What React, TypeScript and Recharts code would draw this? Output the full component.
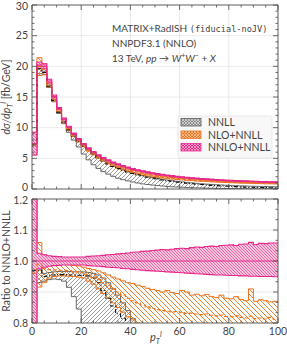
import { ComposedChart, Area, Line, XAxis, YAxis, CartesianGrid } from 'recharts';

// bin edges in p_T^l [GeV], 2 GeV bins
const binEdges = [
  0, 2, 4, 6, 8, 10, 12, 14, 16, 18, 20, 22, 24, 26, 28, 30, 32, 34, 36, 38,
  40, 42, 44, 46, 48, 50, 52, 54, 56, 58, 60, 62, 64, 66, 68, 70, 72, 74, 76, 78,
  80, 82, 84, 86, 88, 90, 92, 94, 96, 98, 100,
];

// NNLO+NNLL central value [fb/GeV]
const nnloNnll = [
  7.4, 20.2, 20.0, 17.6, 15.1, 13.1, 11.4, 10.1, 9.0, 8.1,
  7.3, 6.6, 6.0, 5.5, 5.05, 4.65, 4.3, 4.0, 3.72, 3.47,
  3.25, 3.05, 2.87, 2.71, 2.56, 2.43, 2.31, 2.2, 2.1, 2.01,
  1.92, 1.84, 1.77, 1.7, 1.64, 1.58, 1.53, 1.48, 1.43, 1.39,
  1.35, 1.31, 1.28, 1.25, 1.22, 1.19, 1.16, 1.14, 1.12, 1.1,
];

// uncertainty bands / central values as ratio to NNLO+NNLL
const nnloLo = [
  0.75, 0.975, 0.98, 0.983, 0.985, 0.986, 0.987, 0.987, 0.987, 0.987,
  0.987, 0.985, 0.984, 0.983, 0.982, 0.98, 0.979, 0.978, 0.976, 0.975,
  0.973, 0.972, 0.97, 0.969, 0.968, 0.967, 0.966, 0.965, 0.964, 0.963,
  0.962, 0.961, 0.96, 0.959, 0.958, 0.957, 0.956, 0.955, 0.955, 0.954,
  0.953, 0.953, 0.952, 0.952, 0.951, 0.951, 0.95, 0.95, 0.95, 0.949,
];
const nnloHi = [
  1.25, 1.025, 1.02, 1.017, 1.015, 1.014, 1.013, 1.013, 1.013, 1.013,
  1.013, 1.015, 1.016, 1.017, 1.018, 1.02, 1.021, 1.023, 1.024, 1.026,
  1.028, 1.029, 1.031, 1.032, 1.034, 1.035, 1.037, 1.036, 1.038, 1.04,
  1.041, 1.04, 1.043, 1.045, 1.044, 1.047, 1.048, 1.047, 1.05, 1.051,
  1.052, 1.05, 1.054, 1.055, 1.06, 1.053, 1.057, 1.056, 1.058, 1.058,
];

const nloC = [
  0.96, 0.99, 0.975, 0.972, 0.971, 0.97, 0.97, 0.969, 0.967, 0.965,
  0.962, 0.955, 0.948, 0.94, 0.93, 0.92, 0.91, 0.9, 0.89, 0.88,
  0.872, 0.865, 0.858, 0.852, 0.847, 0.843, 0.84, 0.838, 0.836, 0.837,
  0.834, 0.831, 0.832, 0.829, 0.827, 0.829, 0.825, 0.823, 0.826, 0.821,
  0.82, 0.823, 0.818, 0.816, 0.822, 0.814, 0.816, 0.813, 0.818, 0.812,
];
const nloLo = [
  0.75, 0.916, 0.93, 0.945, 0.95, 0.952, 0.952, 0.951, 0.95, 0.948,
  0.945, 0.935, 0.925, 0.91, 0.895, 0.88, 0.865, 0.85, 0.835, 0.82,
  0.81, 0.8, 0.79, 0.785, 0.78, 0.776, 0.773, 0.771, 0.769, 0.77,
  0.767, 0.764, 0.765, 0.762, 0.76, 0.762, 0.758, 0.756, 0.759, 0.754,
  0.753, 0.756, 0.751, 0.749, 0.755, 0.747, 0.749, 0.746, 0.751, 0.745,
];
const nloHi = [
  1.25, 1.06, 1.02, 0.99, 0.99, 0.99, 0.99, 0.988, 0.986, 0.984,
  0.98, 0.976, 0.972, 0.968, 0.962, 0.955, 0.948, 0.942, 0.936, 0.93,
  0.927, 0.922, 0.918, 0.912, 0.908, 0.905, 0.9, 0.905, 0.898, 0.895,
  0.905, 0.9, 0.89, 0.893, 0.888, 0.892, 0.885, 0.882, 0.89, 0.88,
  0.878, 0.885, 0.876, 0.872, 0.91, 0.87, 0.875, 0.872, 0.868, 0.87,
];

const nnllC = [
  0.97, 0.97, 0.95, 0.952, 0.955, 0.956, 0.956, 0.955, 0.955, 0.954,
  0.953, 0.952, 0.945, 0.93, 0.905, 0.88, 0.855, 0.83, 0.815, 0.795,
  0.775, 0.755, 0.735, 0.71, 0.69, 0.66, 0.64, 0.61, 0.59, 0.56,
  0.54, 0.51, 0.49, 0.46, 0.44, 0.41, 0.39, 0.37, 0.35, 0.33,
  0.31, 0.29, 0.27, 0.25, 0.24, 0.22, 0.21, 0.19, 0.18, 0.17,
];
const nnllLo = [
  0.78, 0.93, 0.935, 0.94, 0.942, 0.94, 0.935, 0.915, 0.885, 0.845,
  0.78, 0.72, 0.66, 0.61, 0.56, 0.52, 0.48, 0.44, 0.41, 0.38,
  0.35, 0.32, 0.29, 0.27, 0.25, 0.23, 0.21, 0.19, 0.17, 0.16,
  0.15, 0.13, 0.12, 0.11, 0.1, 0.09, 0.08, 0.07, 0.065, 0.06,
  0.055, 0.05, 0.045, 0.04, 0.035, 0.03, 0.028, 0.025, 0.022, 0.02,
];
const nnllHi = [
  1.22, 1.0, 0.96, 0.963, 0.965, 0.966, 0.966, 0.966, 0.965, 0.965,
  0.965, 0.963, 0.96, 0.955, 0.945, 0.93, 0.91, 0.89, 0.865, 0.84,
  0.815, 0.79, 0.765, 0.745, 0.725, 0.705, 0.685, 0.665, 0.645, 0.625,
  0.605, 0.585, 0.565, 0.545, 0.525, 0.505, 0.49, 0.475, 0.46, 0.445,
  0.43, 0.415, 0.4, 0.39, 0.38, 0.37, 0.36, 0.35, 0.34, 0.33,
];

// axis ticks
const xTicks = [0, 5, 10, 15, 20, 25, 30, 35, 40, 45, 50, 55, 60, 65, 70, 75, 80, 85, 90, 95, 100];
const xMajor = [0, 20, 40, 60, 80, 100];
const topYTicks = [
  0, 1, 2, 3, 4, 5, 6, 7, 8, 9, 10, 11, 12, 13, 14, 15,
  16, 17, 18, 19, 20, 21, 22, 23, 24, 25, 26, 27, 28, 29, 30,
];
const topYMajor = [0, 5, 10, 15, 20, 25, 30];
const ratioTicks = [
  0.8, 0.8333, 0.8667, 0.9, 0.9333, 0.9667, 1.0, 1.0333, 1.0667, 1.1, 1.1333, 1.1667, 1.2,
];
const ratioMajor = [0.8, 0.9, 1.0, 1.1, 1.2];

const PINK = '#e7298a';
const ORANGE = '#e8731c';
const GRAY = '#5a5a5a';
const AXIS = '#4a4a4a';
const TXT = '#444';
const FONT = 'Lato, "Open Sans", sans-serif';

const PLOT_L = 32;
const PLOT_R = 278;

// each edge row takes the value of the bin that starts there (last edge closes the last bin)
const topData = binEdges.map((x, i) => {
  const k = Math.min(i, nnloNnll.length - 1);
  const c = nnloNnll[k];
  return {
    x,
    nnlo: c,
    nnloBand: [c * nnloLo[k], c * nnloHi[k]],
    nlo: c * nloC[k],
    nloBand: [c * nloLo[k], c * nloHi[k]],
    nnll: c * nnllC[k],
    nnllBand: [c * nnllLo[k], c * nnllHi[k]],
  };
});

const ratioData = binEdges.map((x, i) => {
  const k = Math.min(i, nnloNnll.length - 1);
  return {
    x,
    nnlo: nnloNnll[k] / nnloNnll[k],
    nnloBand: [nnloLo[k], nnloHi[k]],
    nlo: nloC[k],
    nloBand: [nloLo[k], nloHi[k]],
    nnll: nnllC[k],
    nnllBand: [nnllLo[k], nnllHi[k]],
  };
});

const isMajor = (v: number, list: number[]) => list.some((m) => Math.abs(m - v) < 1e-6);

function XTick(props: any) {
  const { x, payload, edge, dir, labels } = props;
  const v = payload.value;
  const major = isMajor(v, xMajor);
  const len = major ? 5 : 2.5;
  return (
    <g>
      <line x1={x} x2={x} y1={edge} y2={edge + dir * len} stroke={AXIS} strokeWidth={0.8} />
      {labels && major && (
        <text x={x} y={edge + 11.5} textAnchor="middle" fontSize={10.5} fill={TXT} fontFamily={FONT}>
          {v}
        </text>
      )}
    </g>
  );
}

function YTick(props: any) {
  const { y, payload, edge, dir, labels, majors, digits, minBase, maxBase } = props;
  const v = payload.value;
  const major = isMajor(v, majors);
  const len = major ? 5 : 2.5;
  const base = Math.min(Math.max(y + 3.5, minBase ?? -Infinity), maxBase ?? Infinity);
  return (
    <g>
      <line x1={edge} x2={edge + dir * len} y1={y} y2={y} stroke={AXIS} strokeWidth={0.8} />
      {labels && major && (
        <text x={edge - 4} y={base} textAnchor="end" fontSize={10.5} fill={TXT} fontFamily={FONT}>
          {v.toFixed(digits)}
        </text>
      )}
    </g>
  );
}

function Panel(props: any) {
  const { data, height, topPad, bottomPad, yDomain, yTicks, yMajor, digits, grid, showXLabels, minBase, maxBase } =
    props;
  const plotTop = topPad;
  const plotBottom = height - bottomPad;
  return (
    <ComposedChart width={287} height={height} data={data} margin={{ top: 0, right: 0, bottom: 0, left: 0 }}>
      <CartesianGrid
        stroke="#e4e4e4"
        strokeWidth={0.8}
        xAxisId="b"
        yAxisId="l"
        verticalValues={[20, 40, 60, 80]}
        horizontalValues={grid}
      />
      <XAxis
        xAxisId="b"
        dataKey="x"
        type="number"
        domain={[0, 100]}
        ticks={xTicks}
        interval={0}
        height={bottomPad}
        axisLine={{ stroke: AXIS, strokeWidth: 0.9 }}
        tickLine={false}
        tick={<XTick edge={plotBottom} dir={-1} labels={showXLabels} />}
        allowDataOverflow
      />
      <XAxis
        xAxisId="t"
        orientation="top"
        dataKey="x"
        type="number"
        domain={[0, 100]}
        ticks={xTicks}
        interval={0}
        height={topPad}
        axisLine={{ stroke: AXIS, strokeWidth: 0.9 }}
        tickLine={false}
        tick={<XTick edge={plotTop} dir={1} labels={false} />}
        allowDataOverflow
      />
      <YAxis
        yAxisId="l"
        type="number"
        domain={yDomain}
        ticks={yTicks}
        interval={0}
        width={PLOT_L}
        axisLine={{ stroke: AXIS, strokeWidth: 0.9 }}
        tickLine={false}
        tick={
          <YTick edge={PLOT_L} dir={1} labels majors={yMajor} digits={digits} minBase={minBase} maxBase={maxBase} />
        }
        allowDataOverflow
      />
      <YAxis
        yAxisId="r"
        orientation="right"
        type="number"
        domain={yDomain}
        ticks={yTicks}
        interval={0}
        width={287 - PLOT_R}
        axisLine={{ stroke: AXIS, strokeWidth: 0.9 }}
        tickLine={false}
        tick={<YTick edge={PLOT_R} dir={-1} labels={false} majors={yMajor} digits={digits} />}
        allowDataOverflow
      />
      <Area
        xAxisId="b"
        yAxisId="l"
        type="stepAfter"
        dataKey="nnllBand"
        stroke={GRAY}
        strokeWidth={0.9}
        fill="url(#hGray)"
        fillOpacity={1}
        dot={false}
        activeDot={false}
        isAnimationActive={false}
      />
      <Area
        xAxisId="b"
        yAxisId="l"
        type="stepAfter"
        dataKey="nloBand"
        stroke={ORANGE}
        strokeWidth={1}
        fill="url(#hOrange)"
        fillOpacity={1}
        dot={false}
        activeDot={false}
        isAnimationActive={false}
      />
      <Area
        xAxisId="b"
        yAxisId="l"
        type="stepAfter"
        dataKey="nnloBand"
        stroke={PINK}
        strokeWidth={1.1}
        fill="url(#hPink)"
        fillOpacity={1}
        dot={false}
        activeDot={false}
        isAnimationActive={false}
      />
      <Line
        xAxisId="b"
        yAxisId="l"
        type="stepAfter"
        dataKey="nnll"
        stroke="#111"
        strokeWidth={1.1}
        strokeDasharray="4 2 1 2"
        dot={false}
        activeDot={false}
        isAnimationActive={false}
      />
      <Line
        xAxisId="b"
        yAxisId="l"
        type="stepAfter"
        dataKey="nlo"
        stroke={ORANGE}
        strokeWidth={1.1}
        strokeDasharray="4 2"
        dot={false}
        activeDot={false}
        isAnimationActive={false}
      />
      <Line
        xAxisId="b"
        yAxisId="l"
        type="stepAfter"
        dataKey="nnlo"
        stroke={PINK}
        strokeWidth={1.1}
        dot={false}
        activeDot={false}
        isAnimationActive={false}
      />
    </ComposedChart>
  );
}

export default function App() {
  return (
    <div style={{ position: 'absolute', left: 0, top: 0, width: 287, height: 347, background: '#fff' }}>
      <svg width={0} height={0} style={{ position: 'absolute' }}>
        <defs>
          <pattern id="hGray" patternUnits="userSpaceOnUse" width={4} height={4}>
            <path d="M-1,1 l2,-2 M0,4 l4,-4 M3,5 l2,-2" stroke="#777" strokeWidth={0.7} />
          </pattern>
          <pattern id="hOrange" patternUnits="userSpaceOnUse" width={5} height={5}>
            <path d="M-1,4 l2,2 M0,0 l5,5 M4,-1 l2,2" stroke={ORANGE} strokeWidth={0.9} />
          </pattern>
          <pattern id="hPink" patternUnits="userSpaceOnUse" width={3} height={3}>
            <rect width={3} height={3} fill="#f6c4db" />
            <path d="M-1,2 l2,2 M0,0 l3,3 M2,-1 l2,2" stroke={PINK} strokeWidth={0.6} />
          </pattern>
          <pattern id="lgGray" patternUnits="userSpaceOnUse" width={3} height={3}>
            <rect width={3} height={3} fill="#8a8a8a" />
            <path d="M0,0 l3,3 M3,0 l-3,3" stroke="#eee" strokeWidth={0.6} />
          </pattern>
          <pattern id="lgOrange" patternUnits="userSpaceOnUse" width={3} height={3}>
            <rect width={3} height={3} fill={ORANGE} />
            <path d="M0,0 l3,3 M3,0 l-3,3" stroke="#fde4cf" strokeWidth={0.6} />
          </pattern>
          <pattern id="lgPink" patternUnits="userSpaceOnUse" width={3} height={3}>
            <rect width={3} height={3} fill={PINK} />
            <path d="M0,0 l3,3 M3,0 l-3,3" stroke="#fbd5e6" strokeWidth={0.6} />
          </pattern>
        </defs>
      </svg>

      <div style={{ position: 'absolute', left: 0, top: 0 }}>
        <Panel
          data={topData}
          height={195}
          topPad={5}
          bottomPad={6}
          yDomain={[0, 30]}
          yTicks={topYTicks}
          yMajor={topYMajor}
          digits={0}
          grid={[5, 10, 15, 20, 25]}
          showXLabels={false}
          minBase={9.5}
          maxBase={190.5}
        />
      </div>
      <div style={{ position: 'absolute', left: 0, top: 190 }}>
        <Panel
          data={ratioData}
          height={157}
          topPad={9}
          bottomPad={24}
          yDomain={[0.8, 1.2]}
          yTicks={ratioTicks}
          yMajor={ratioMajor}
          digits={1}
          grid={[0.9, 1.0, 1.1]}
          showXLabels
          minBase={14}
        />
      </div>

      <svg
        width={287}
        height={347}
        style={{ position: 'absolute', left: 0, top: 0, pointerEvents: 'none' }}
        fontFamily={FONT}
      >
        <text x={112} y={31.5} fontSize={10} fill={TXT}>
          MATRIX+RadISH{' '}
          <tspan fontFamily='"DejaVu Sans Mono", "Liberation Mono", monospace' fontSize={8.6}>
            (fiducial-noJV)
          </tspan>
        </text>
        <text x={112} y={46.5} fontSize={10} fill={TXT}>
          NNPDF3.1 (NNLO)
        </text>
        <text x={112} y={61.5} fontSize={10} fill={TXT}>
          13 TeV, <tspan fontStyle="italic">pp</tspan> → <tspan fontStyle="italic">W</tspan>
          <tspan dy={-4} fontSize={7}>+</tspan>
          <tspan dy={4} fontStyle="italic">W</tspan>
          <tspan dy={-4} fontSize={7}>−</tspan>
          <tspan dy={4}> + </tspan>
          <tspan fontStyle="italic">X</tspan>
        </text>

        <rect x={178} y={116} width={94} height={42} fill="#f8f8f8" stroke="#e2e2e2" strokeWidth={0.8} rx={1.5} />
        <rect x={181} y={118.5} width={20} height={7.5} fill="url(#lgGray)" stroke={GRAY} strokeWidth={0.8} />
        <rect x={181} y={131} width={20} height={7.5} fill="url(#lgOrange)" stroke={ORANGE} strokeWidth={0.8} />
        <rect x={181} y={143.5} width={20} height={7.5} fill="url(#lgPink)" stroke={PINK} strokeWidth={0.8} />
        <text x={208} y={126} fontSize={10.5} fill={TXT}>NNLL</text>
        <text x={208} y={138.5} fontSize={10.5} fill={TXT}>NLO+NNLL</text>
        <text x={208} y={151} fontSize={10.5} fill={TXT}>NNLO+NNLL</text>

        <text transform="translate(10,97) rotate(-90)" textAnchor="middle" fontSize={10.5} fill={TXT}>
          <tspan fontStyle="italic">dσ/dp</tspan>
          <tspan dy={3} fontSize={7.5} fontStyle="italic">T</tspan>
          <tspan dy={-7} fontSize={7.5} fontStyle="italic">l</tspan>
          <tspan dy={4}> [fb/GeV]</tspan>
        </text>
        <text transform="translate(10,261) rotate(-90)" textAnchor="middle" fontSize={10.5} fill={TXT}>
          Ratio to NNLO+NNLL
        </text>
        <text x={150} y={341} fontSize={11} fill={TXT} fontStyle="italic">
          p<tspan dy={3} fontSize={7.5}>T</tspan>
          <tspan dy={-7} fontSize={7.5}>l</tspan>
        </text>
      </svg>
    </div>
  );
}
